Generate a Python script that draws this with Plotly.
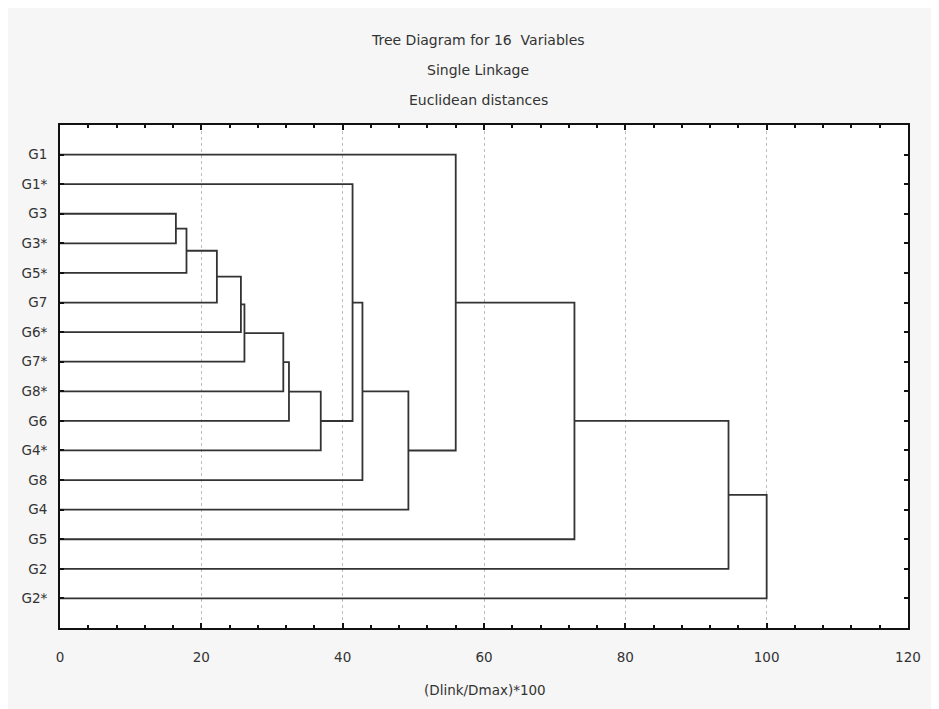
import plotly.graph_objects as go

# ---- data ----
leaf_labels = ["G1", "G1*", "G3", "G3*", "G5*", "G7", "G6*", "G7*", "G8*",
               "G6", "G4*", "G8", "G4", "G5", "G2", "G2*"]
# merges: (child_a, child_b, linkage distance); ids < 16 are leaves, others are
# clusters numbered 16, 17, ... in merge order
merge_a = [2, 16, 17, 18, 19, 20, 21, 22, 1, 24, 25, 0, 27, 28, 29]
merge_b = [3, 4, 5, 6, 7, 8, 9, 10, 23, 11, 12, 26, 13, 14, 15]
merge_h = [16.4, 17.9, 22.2, 25.6, 26.1, 31.6, 32.4, 36.9, 41.4, 42.8, 49.3,
           56.0, 72.8, 94.6, 100.0]
x_ticks = [0, 20, 40, 60, 80, 100, 120]

title_lines = ["Tree Diagram for 16  Variables", "Single Linkage", "Euclidean distances"]
x_title = "(Dlink/Dmax)*100"

# ---- build dendrogram segments ----
n = len(leaf_labels)
pos_y = {i: i + 1 for i in range(n)}
pos_x = {i: 0.0 for i in range(n)}
xs, ys = [], []
for k, (a, b, h) in enumerate(zip(merge_a, merge_b, merge_h)):
    cid = n + k
    xs += [pos_x[a], h, h, pos_x[b], None]
    ys += [pos_y[a], pos_y[a], pos_y[b], pos_y[b], None]
    pos_x[cid] = h
    pos_y[cid] = (pos_y[a] + pos_y[b]) / 2

FONT = "DejaVu Sans"
TXT = "#333333"
FS = 13.5

fig = go.Figure()
fig.add_trace(go.Scatter(x=xs, y=ys, mode="lines",
                         line=dict(color="#333333", width=1.8),
                         hoverinfo="skip", showlegend=False))

fig.update_layout(
    width=931, height=701,
    margin=dict(l=52, r=31, t=117, b=81),
    paper_bgcolor="#f6f6f6",
    plot_bgcolor="#ffffff",
    font=dict(family=FONT, size=FS, color=TXT),
    showlegend=False,
)
fig.update_xaxes(
    range=[0, 120], tickvals=x_ticks, ticktext=[str(v) for v in x_ticks],
    ticks="inside", ticklen=5, tickwidth=1.5, tickcolor="#111111",
    showline=True, linecolor="#111111", linewidth=2, mirror="allticks",
    showgrid=True, gridcolor="#bdbdbd", griddash="dot", gridwidth=1,
    zeroline=False, ticklabelstandoff=16,
    tickfont=dict(family=FONT, size=FS, color=TXT),
    minor=dict(dtick=4, tick0=0, ticks="inside", ticklen=3, tickcolor="#111111",
               showgrid=False),
)
fig.update_yaxes(
    range=[17, 0], tickvals=list(range(1, n + 1)), ticktext=leaf_labels,
    ticks="inside", ticklen=4, tickwidth=1.5, tickcolor="#111111",
    showline=True, linecolor="#111111", linewidth=2, mirror="allticks",
    showgrid=False, zeroline=False, ticklabelstandoff=8,
    tickfont=dict(family=FONT, size=FS, color=TXT),
)

for txt, py in zip(title_lines, [40, 70, 100]):
    fig.add_annotation(text=txt, xref="paper", yref="paper",
                       x=(478 - 60) / 848, y=(628 - py) / 503,
                       showarrow=False, xanchor="center", yanchor="middle",
                       font=dict(family=FONT, size=14, color=TXT))
fig.add_annotation(text=x_title, xref="paper", yref="paper",
                   x=(485 - 60) / 848, y=(628 - 690) / 503,
                   showarrow=False, xanchor="center", yanchor="middle",
                   font=dict(family=FONT, size=FS, color=TXT))

fig.write_html("out.html")
